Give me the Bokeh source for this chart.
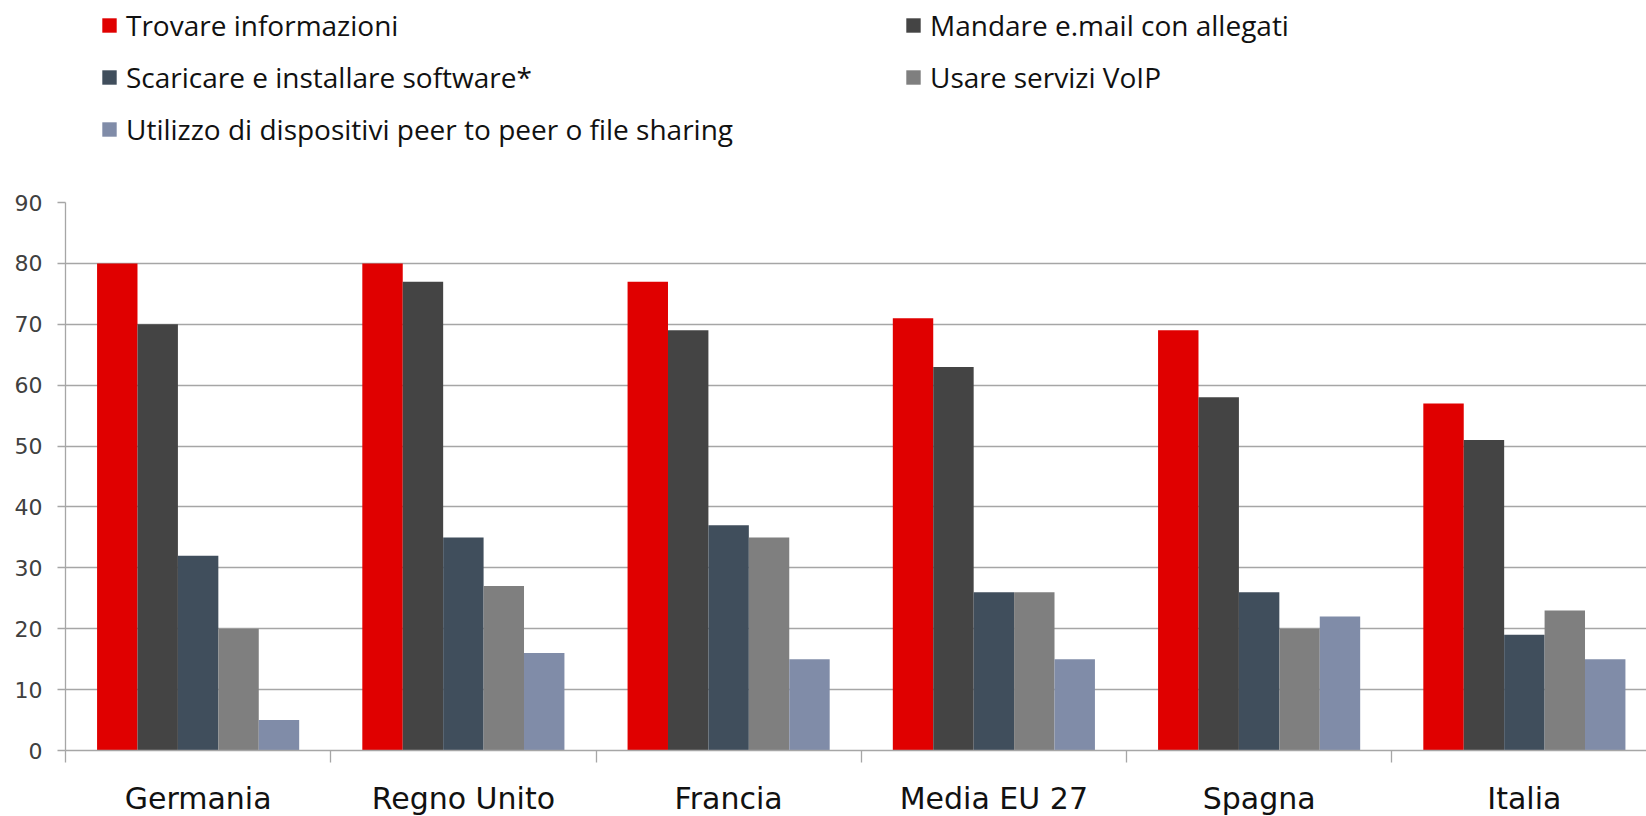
from bokeh.plotting import figure
from bokeh.layouts import column
from bokeh.models import (ColumnDataSource, Range1d, FixedTicker, LinearAxis,
                          Legend, LegendItem)
from bokeh.transform import dodge
from bokeh.embed import file_html
from bokeh.resources import INLINE

# ---- data ----
countries = ["Germania", "Regno Unito", "Francia", "Media EU 27", "Spagna", "Italia"]
series_names = [
    "Trovare informazioni",
    "Mandare e.mail con allegati",
    "Scaricare e installare software*",
    "Usare servizi VoIP",
    "Utilizzo di dispositivi peer to peer o file sharing",
]
trovare = [80, 80, 77, 71, 69, 57]
mandare = [70, 77, 69, 63, 58, 51]
scaricare = [32, 35, 37, 26, 26, 19]
voip = [20, 27, 35, 26, 20, 23]
p2p = [5, 16, 15, 15, 22, 15]
y_ticks = [0, 10, 20, 30, 40, 50, 60, 70, 80, 90]

colors = ["#E00000", "#444444", "#404E5C", "#7F7F7F", "#808CA8"]
series_values = [trovare, mandare, scaricare, voip, p2p]
keys = ["s0", "s1", "s2", "s3", "s4"]

src = ColumnDataSource(dict(xc=list(range(len(countries))),
                            **{k: v for k, v in zip(keys, series_values)}))

GRID = "#A6A6A6"
BAR_W = 0.1524
CAT_PX = 265.25
FRAME_W = 1581

# ---------------- main chart ----------------
p = figure(
    frame_width=FRAME_W, frame_height=548,
    min_border_left=65, min_border_top=12, min_border_right=0, min_border_bottom=0,
    x_range=Range1d(-0.5, -0.5 + FRAME_W / CAT_PX), y_range=Range1d(0, 90),
    output_backend="svg", toolbar_location=None,
    x_axis_location=None, y_axis_location=None,
)
p.outline_line_color = None
p.background_fill_color = "white"
p.border_fill_color = "white"

for i, (k, c) in enumerate(zip(keys, colors)):
    p.vbar(x=dodge("xc", (i - 2) * BAR_W), top=k, width=BAR_W, bottom=0,
           source=src, fill_color=c, line_color=None)

yaxis = LinearAxis(ticker=FixedTicker(ticks=y_ticks))
yaxis.axis_line_color = GRID
yaxis.axis_line_width = 1.3
yaxis.major_tick_line_color = GRID
yaxis.major_tick_line_width = 1.3
yaxis.major_tick_out = 8
yaxis.major_tick_in = 0
yaxis.minor_tick_line_color = None
yaxis.major_label_standoff = 15
yaxis.major_label_text_font = "DejaVu Sans"
yaxis.major_label_text_font_size = "22px"
yaxis.major_label_text_color = "#404040"
p.add_layout(yaxis, "left")

xaxis = LinearAxis(ticker=FixedTicker(ticks=list(range(len(countries))),
                                      minor_ticks=[i - 0.5 for i in range(len(countries) + 1)]))
xaxis.major_label_overrides = {i: c for i, c in enumerate(countries)}
xaxis.axis_line_color = GRID
xaxis.axis_line_width = 1.3
xaxis.major_tick_line_color = None
xaxis.major_tick_out = 0
xaxis.major_tick_in = 0
xaxis.minor_tick_line_color = GRID
xaxis.minor_tick_line_width = 1.3
xaxis.minor_tick_out = 12
xaxis.minor_tick_in = 0
xaxis.major_label_standoff = 18
xaxis.major_label_text_font = "DejaVu Sans"
xaxis.major_label_text_font_size = "30px"
xaxis.major_label_text_color = "#111111"
p.add_layout(xaxis, "below")

p.ygrid.ticker = FixedTicker(ticks=y_ticks)
p.ygrid.grid_line_color = GRID
p.ygrid.grid_line_width = 1.3
p.xgrid.grid_line_color = None

# ---------------- legend strip ----------------
LH = 190
lf = figure(width=1646, height=LH, min_border=0,
            x_range=Range1d(-0.5, 5.5), y_range=Range1d(1000, 1001),
            output_backend="svg", toolbar_location=None,
            x_axis_location=None, y_axis_location=None)
lf.outline_line_color = None
lf.xgrid.grid_line_color = None
lf.ygrid.grid_line_color = None

# swatch renderers (same data, outside the strip's visible y range)
swatches = [lf.vbar(x="xc", top=k, width=0.1, source=src, fill_color=c, line_color=None)
            for k, c in zip(keys, colors)]

ITEM_H, PITCH, TOP = 39, 52, 5


def make_legend(idx, loc):
    lg = Legend(items=[LegendItem(label=series_names[i], renderers=[swatches[i]]) for i in idx],
                location=loc)
    lg.orientation = "vertical"
    lg.padding = 0
    lg.margin = 0
    lg.spacing = PITCH - ITEM_H
    lg.glyph_width = 18
    lg.glyph_height = 18
    lg.label_height = ITEM_H
    lg.label_standoff = 8
    lg.label_text_font = "Open Sans"
    lg.label_text_font_size = "28px"
    lg.label_text_color = "#111111"
    lg.label_text_baseline = "middle"
    lg.border_line_color = None
    lg.background_fill_alpha = 0
    return lg


hA = 3 * ITEM_H + 2 * (PITCH - ITEM_H)
hB = 2 * ITEM_H + 1 * (PITCH - ITEM_H)
lf.add_layout(make_legend([0, 2, 4], (35, LH - TOP - hA)))
lf.add_layout(make_legend([1, 3], (839, LH - TOP - hB)))

layout = column(lf, p, spacing=0)
open("out.html", "w").write(file_html(layout, INLINE))
